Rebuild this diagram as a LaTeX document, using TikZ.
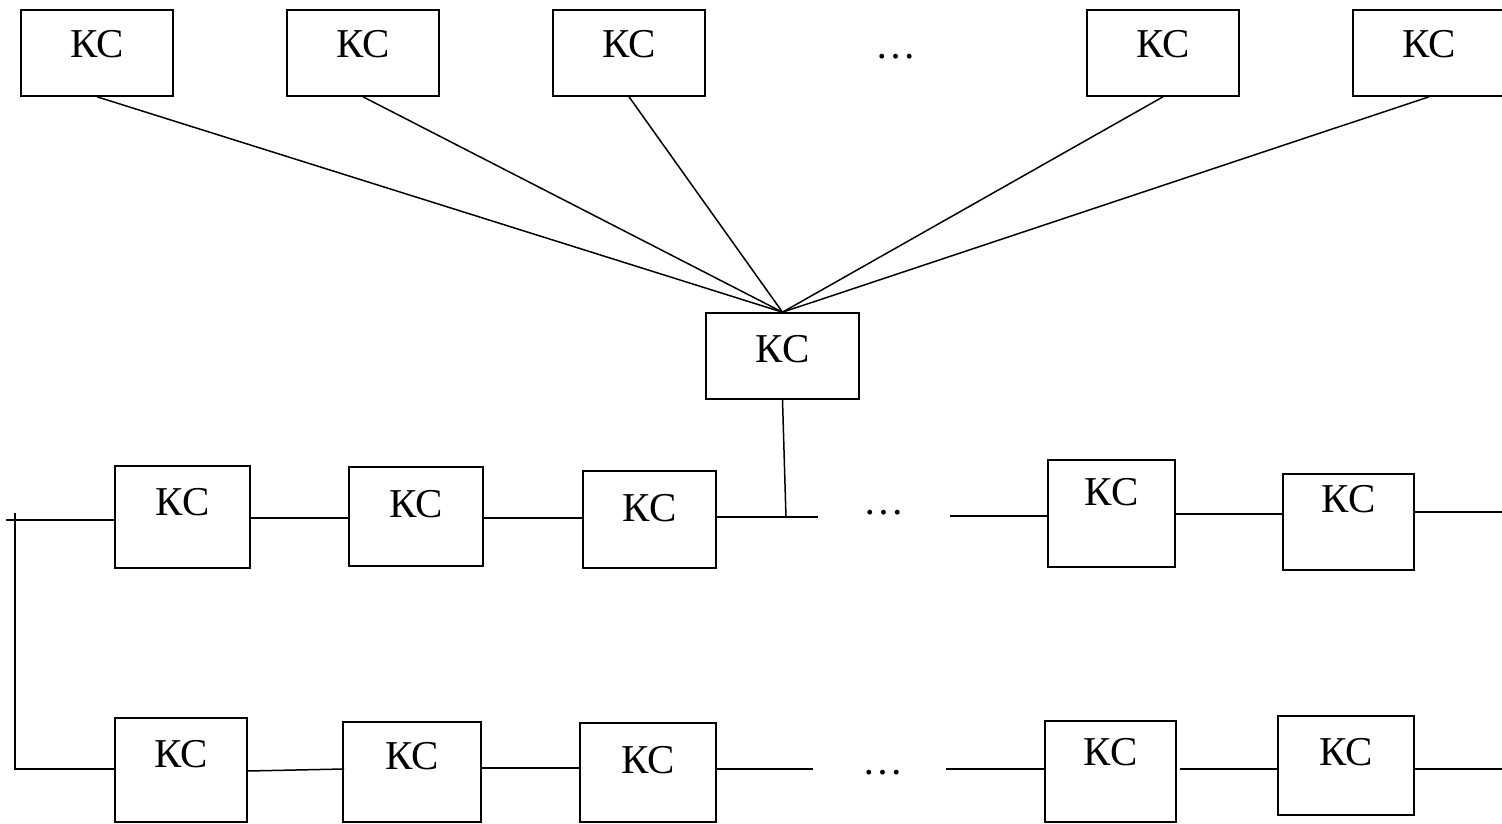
\documentclass[tikz,border=0pt]{standalone}
\usepackage{fontspec}
\setmainfont{Liberation Serif}
\begin{document}
\begin{tikzpicture}[x=1pt,y=-1pt,
  every node/.style={font=\fontsize{41pt}{49pt}\selectfont},
  ks/.style={draw, line width=1.6pt, inner sep=0pt, text height=27pt, text depth=#1},
  ks/.default=17pt,
  link/.style={line width=1.5pt},
  dots/.style={anchor=base, inner sep=0pt}]
\useasboundingbox (0,0) rectangle (1502,824);

% upper level
\node[ks, minimum width=152pt, minimum height=86pt] (t1) at (97,53) {КС};
\node[ks, minimum width=152pt, minimum height=86pt] (t2) at (363,53) {КС};
\node[ks, minimum width=152pt, minimum height=86pt] (t3) at (629,53) {КС};
\node[dots] (tdots) at (896,59) {…};
\node[ks, minimum width=152pt, minimum height=86pt] (t5) at (1163,53) {КС};
\node[ks, minimum width=152pt, minimum height=86pt] (t6) at (1429,53) {КС};

% central station
\node[ks=15pt, minimum width=153pt, minimum height=86pt] (c) at (782.5,356) {КС};

\foreach \t in {t1,t2,t3,t5,t6}
  \draw[link] (\t.south) -- (c.north);

% first chain
\coordinate (row1) at (0,518);
\coordinate (row2) at (0,769);
\node[ks=31pt, minimum width=135pt, minimum height=102pt] (r11) at (182.5,517) {КС};
\node[ks=26pt, minimum width=134pt, minimum height=99pt] (r12) at (416,516.5) {КС};
\node[ks=24pt, minimum width=133pt, minimum height=97pt] (r13) at (649.5,519.5) {КС};
\node[dots] (rdots1) at (884,514) {…};
\node[ks=44pt, minimum width=127pt, minimum height=107pt] (r14) at (1111.5,513.5) {КС};
\node[ks=47pt, minimum width=131pt, minimum height=96pt] (r15) at (1348.5,522) {КС};

\coordinate (l1) at (6,520);
\coordinate (v1) at (15,513);
\coordinate (v2) at (15,769);
\coordinate (j1) at (786,518);
\coordinate (e1) at (818,517);
\coordinate (s1) at (950,516);
\coordinate (f1) at (1502,512);

\draw[link] (l1) -- (r11.west |- l1);
\draw[link] (r11.east |- row1) -- (r12.west |- row1);
\draw[link] (r12.east |- row1) -- (r13.west |- row1);
\draw[link] (r13.east |- e1) -- (e1);
\draw[link] (c.south) -- (j1);
\draw[link] (s1) -- (r14.west |- s1);
\draw[link] (r14.east |- 0,514) -- (r15.west |- 0,514);
\draw[link] (r15.east |- f1) -- (f1);

% second chain
\node[ks=33pt, minimum width=132pt, minimum height=104pt] (r21) at (181,770) {КС};
\node[ks=33pt, minimum width=138pt, minimum height=100pt] (r22) at (412,772) {КС};
\node[ks=26pt, minimum width=136pt, minimum height=99pt] (r23) at (648,772.5) {КС};
\node[dots] (rdots2) at (883,774) {…};
\node[ks=40pt, minimum width=131pt, minimum height=101pt] (r24) at (1110.5,771.5) {КС};
\node[ks=27pt, minimum width=136pt, minimum height=99pt] (r25) at (1346,765.5) {КС};

\coordinate (e2) at (813,769);
\coordinate (s2) at (946,769);
\coordinate (f2) at (1502,769);

\draw[link] (v1) -- (v2) -- (r21.west |- v2);
\draw[link] (r21.east |- 0,771) -- ([xshift=2pt]r22.west |- 0,769);
\draw[link] (r22.east |- 0,768) -- (r23.west |- 0,768);
\draw[link] (r23.east |- e2) -- (e2);
\draw[link] (s2) -- (r24.west |- s2);
\draw[link, shorten <=3pt] (r24.east |- row2) -- (r25.west |- row2);
\draw[link] (r25.east |- f2) -- (f2);
\end{tikzpicture}
\end{document}
